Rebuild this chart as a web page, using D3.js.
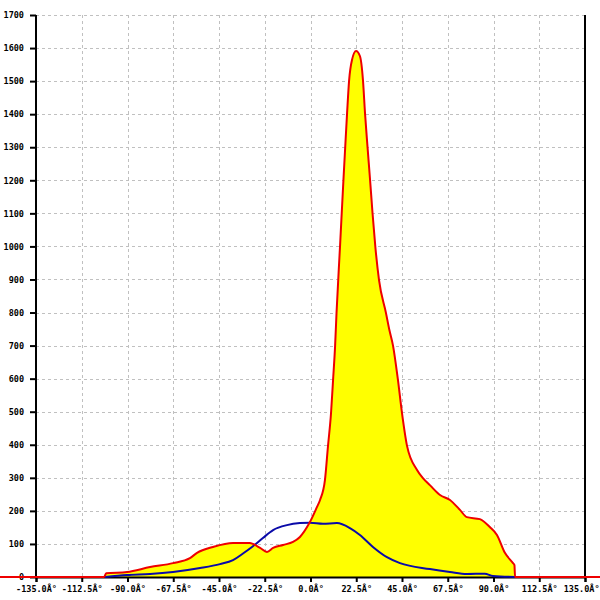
<!DOCTYPE html>
<html>
<head>
<meta charset="utf-8">
<script src="https://cdn.jsdelivr.net/npm/d3@7/dist/d3.min.js"></script>
<style>
  html, body { margin: 0; padding: 0; background: #fff; }
  svg { display: block; }
  text { font-family: "DejaVu Sans Mono", monospace; font-size: 8.5px; font-weight: bold; fill: #000; }
</style>
</head>
<body>
<svg id="chart" width="600" height="600"></svg>
<script>
// ---- data (angle in degrees, counts) ----
const redAngles = [-180, -101.5, -100.5, -90.2, -78.9, -67.6, -59.3, -55.8, -47.9, -38.1, -29.8, -28.3, -24.8, -21.4, -18.4, -13.5, -8.6, -5.2, -1.7, 0.2, 3.2, 4.7, 7.1, 8.6, 10.1, 11.1, 12.1, 12.8, 14.5, 16.2, 17.0, 18.0, 19.0, 20.4, 22.4, 24.3, 25.8, 26.8, 28.0, 29.3, 30.5, 31.9, 33.7, 37.1, 38.8, 40.6, 43.0, 45.0, 47.5, 52.4, 55.3, 58.7, 63.7, 68.6, 73.5, 76.9, 83.3, 88.2, 91.7, 95.6, 99.6, 100.3, 100.6, 180];
const redValues = [0, 0, 11, 15, 30, 42, 57, 73, 91, 103, 103, 100, 88, 76, 88, 97, 106, 121, 151, 172, 212, 233, 293, 396, 496, 596, 699, 799, 998, 1201, 1292, 1404, 1503, 1564, 1591, 1576, 1503, 1404, 1304, 1201, 1101, 998, 898, 799, 747, 699, 596, 496, 396, 324, 299, 278, 248, 233, 203, 181, 175, 151, 127, 73, 42, 36, 0, 0];

const blueAngles = [-101.1, -90.2, -78.9, -67.6, -54.3, -44.5, -38.1, -33.2, -28.3, -23.4, -18.4, -11.6, -5.2, -0.2, 6.1, 13.0, 19.4, 24.3, 30.7, 37.6, 44.0, 58.7, 68.6, 76.9, 85.7, 89.7, 100.6];
const blueValues = [0, 6, 9, 15, 27, 39, 51, 71, 93, 118, 142, 157, 163, 164, 161, 163, 148, 127, 91, 60, 42, 24, 15, 9, 10, 3, 0];

const xTickValues = [-135, -112.5, -90, -67.5, -45, -22.5, 0, 22.5, 45, 67.5, 90, 112.5, 135];
const xTickLabels = ["-135.0Â°", "-112.5Â°", "-90.0Â°", "-67.5Â°", "-45.0Â°", "-22.5Â°", "0.0Â°", "22.5Â°", "45.0Â°", "67.5Â°", "90.0Â°", "112.5Â°", "135.0Â°"];
const yTickValues = [0, 100, 200, 300, 400, 500, 600, 700, 800, 900, 1000, 1100, 1200, 1300, 1400, 1500, 1600, 1700];

// ---- layout ----
const mLeft = 36, mRight = 585, mTop = 15, mBottom = 577;

const svg = d3.select("#chart");
const x = d3.scaleLinear().domain([-135, 135]).range([mLeft, mRight]);
const y = d3.scaleLinear().domain([0, 1700]).range([mBottom, mTop]);

const red = redAngles.map((a, i) => ({a, v: redValues[i]}));
const blue = blueAngles.map((a, i) => ({a, v: blueValues[i]}));

// grid
const grid = svg.append("g").attr("stroke", "#c0c0c0").attr("stroke-width", 1).attr("stroke-dasharray", "3,3");
grid.selectAll("line.h").data(yTickValues.slice(1)).join("line")
  .attr("x1", mLeft).attr("x2", mRight)
  .attr("y1", d => Math.round(y(d)) + 0.5).attr("y2", d => Math.round(y(d)) + 0.5);
grid.selectAll("line.v").data(xTickValues.slice(1, -1)).join("line")
  .attr("y1", mTop).attr("y2", mBottom)
  .attr("x1", d => Math.round(x(d)) + 0.5).attr("x2", d => Math.round(x(d)) + 0.5);

// area fill
const curve = d3.curveMonotoneX;
const area = d3.area().x(d => x(d.a)).y0(y(0)).y1(d => y(d.v)).curve(curve);
svg.append("path").datum(red)
  .attr("d", area).attr("fill", "#ffff00");

// axes
const xAxis = d3.axisBottom(x).tickValues(xTickValues)
  .tickFormat((d, i) => xTickLabels[i]).tickSize(5).tickPadding(4);
const gx = svg.append("g").attr("transform", `translate(0,${mBottom})`).call(xAxis);
gx.select(".domain").attr("stroke", "#000").attr("stroke-width", 2);
gx.selectAll(".tick line").attr("stroke", "#000").attr("stroke-width", 2);
// keep the last label inside the picture
gx.selectAll(".tick text").filter((d, i) => i === xTickValues.length - 1)
  .attr("text-anchor", "end").attr("dx", 14);

const yAxis = d3.axisLeft(y).tickValues(yTickValues).tickFormat(d => String(d)).tickSize(6).tickPadding(6);
const gy = svg.append("g").attr("transform", `translate(${mLeft},0)`).call(yAxis);
gy.select(".domain").attr("stroke", "#000").attr("stroke-width", 2).attr("d", `M0,${mTop}V${mBottom}`);
gy.selectAll(".tick line").attr("stroke", "#000").attr("stroke-width", 2);

const gr = svg.append("g").attr("transform", `translate(${mRight},0)`).call(d3.axisRight(y).tickValues([]).tickSize(0));
gr.select(".domain").attr("stroke", "#000").attr("stroke-width", 2).attr("d", `M0,${mTop}V${mBottom}`);

svg.selectAll(".tick text").attr("font-family", null).attr("font-size", null)
  .style("font-family", "'DejaVu Sans Mono', monospace").style("font-size", "8.5px").style("font-weight", "bold").style("fill", "#000");

// lines
const line = d3.line().x(d => x(d.a)).y(d => y(d.v)).curve(curve);
svg.append("path").datum(blue).attr("d", line)
  .attr("fill", "none").attr("stroke", "#0a0aa8").attr("stroke-width", 2);
svg.append("path").datum(red).attr("d", line)
  .attr("fill", "none").attr("stroke", "#ee0000").attr("stroke-width", 2);
</script>
</body>
</html>
